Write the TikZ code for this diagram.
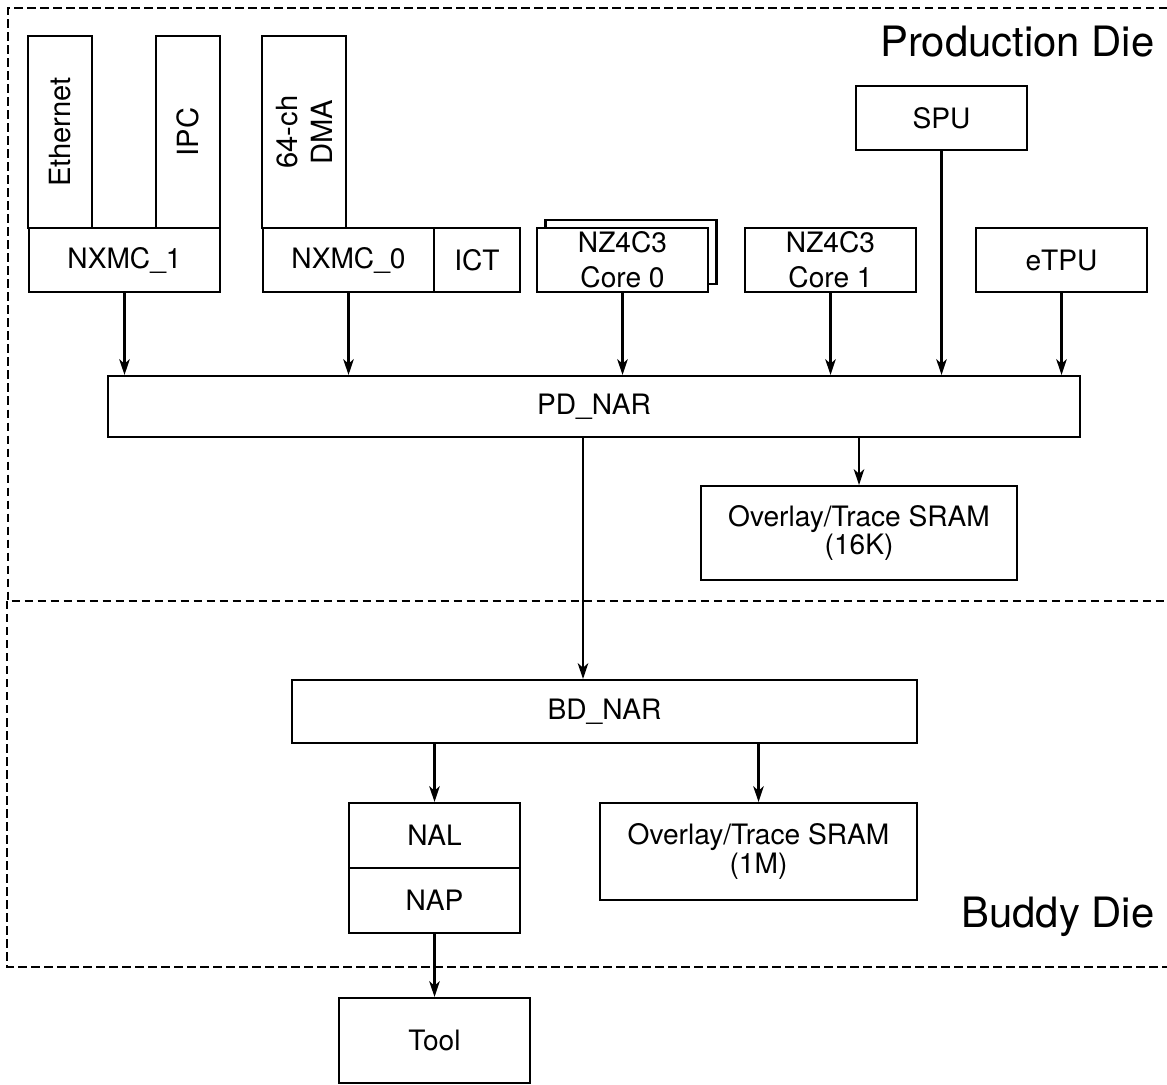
\documentclass[tikz,border=0pt]{standalone}
\usepackage{fontspec}
\setmainfont{TeX Gyre Heros}
\usepackage{tikz}
\usetikzlibrary{arrows.meta,calc,positioning}

\tikzset{
  blk/.style={draw, line width=0.6pt, fill=white, inner sep=0pt, align=center,
    font=\fontsize{8}{10}\selectfont},
  arr/.style={line width=0.6pt, -{Stealth[length=4.5pt,width=3pt,inset=1.3pt]}},
  die/.style={line width=0.6pt, dash pattern=on 2.4pt off 1.3pt},
  dielabel/.style={anchor=east, inner sep=0pt, font=\fontsize{11.9}{14}\selectfont}
}

\begin{document}
\begin{tikzpicture}
  \useasboundingbox (0,0) rectangle (11.67,-10.84);
  % die outlines
  \draw[die] (11.80,-0.08) -- (0.08,-0.08) -- (0.08,-6.01) -- (11.80,-6.01);
  \draw[die] (0.07,-6.01) -- (0.07,-9.67) -- (11.80,-9.67);
  \node[dielabel] (pdlabel) at (11.55,-0.42) {Production Die};
  \node[dielabel] (bdlabel) at (11.55,-9.17) {Buddy Die};

  % peripherals on the left
  \node[blk, rotate=90, minimum width=1.92cm, minimum height=0.64cm, font=\fontsize{8.3}{10}\selectfont] (eth) at (0.60,-1.32) {Ethernet};
  \node[blk, rotate=90, minimum width=1.92cm, minimum height=0.64cm, font=\fontsize{8.3}{10}\selectfont] (ipc) at (1.88,-1.32) {IPC};
  \node[blk, rotate=90, minimum width=1.92cm, minimum height=0.84cm, font=\fontsize{8.3}{10}\selectfont] (dma) at (3.04,-1.32) {64-ch\\DMA};
  \node[blk, minimum width=1.91cm, minimum height=0.64cm] (nxmc1) at (1.245,-2.60) {NXMC\_1};
  \node[blk, minimum width=1.71cm, minimum height=0.64cm] (nxmc0) at (3.485,-2.60) {NXMC\_0};
  \node[blk, minimum width=0.86cm, minimum height=0.64cm] (ict) at (4.77,-2.60) {ICT};

  % cores and co-processors
  \node[blk, minimum width=1.71cm, minimum height=0.64cm] (core0b) at (6.31,-2.52) {};
  \node[blk, minimum width=1.71cm, minimum height=0.64cm] (core0) at (6.225,-2.60) {NZ4C3\\Core 0};
  \node[blk, minimum width=1.71cm, minimum height=0.64cm] (core1) at (8.305,-2.60) {NZ4C3\\Core 1};
  \node[blk, minimum width=1.71cm, minimum height=0.64cm] (spu) at (9.415,-1.18) {SPU};
  \node[blk, minimum width=1.71cm, minimum height=0.64cm] (etpu) at (10.615,-2.60) {eTPU};

  % production die router and memory
  \node[blk, minimum width=9.72cm, minimum height=0.61cm] (pdnar) at (5.94,-4.065) {PD\_NAR};
  \node[blk, minimum width=3.16cm, minimum height=0.94cm, font=\fontsize{8}{8}\selectfont] (sram16k) at (8.59,-5.33) {Overlay/Trace SRAM\\(16K)};

  % buddy die
  \node[blk, minimum width=6.25cm, minimum height=0.63cm] (bdnar) at (6.045,-7.115) {BD\_NAR};
  \node[blk, minimum width=1.71cm, minimum height=0.65cm] (nal) at (4.345,-8.355) {NAL};
  \node[blk, minimum width=1.71cm, minimum height=0.65cm] (nap) at (4.345,-9.005) {NAP};
  \node[blk, minimum width=3.17cm, minimum height=0.97cm, font=\fontsize{8}{8}\selectfont] (sram1m) at (7.585,-8.515) {Overlay/Trace SRAM\\(1M)};
  \node[blk, minimum width=1.91cm, minimum height=0.85cm] (tool) at (4.345,-10.405) {Tool};

  % connections
  \foreach \src in {nxmc1,nxmc0,core0,core1,spu,etpu}
    \draw[arr] (\src.south) -- (\src.south |- pdnar.north);
  \draw[arr] ([xshift=-0.11cm]pdnar.south) -- ([xshift=-0.11cm]pdnar.south |- bdnar.north);
  \draw[arr] (sram16k.north |- pdnar.south) -- (sram16k.north);
  \draw[arr] (nal.north |- bdnar.south) -- (nal.north);
  \draw[arr] (sram1m.north |- bdnar.south) -- (sram1m.north);
  \draw[arr] (nap.south) -- (tool.north);
\end{tikzpicture}
\end{document}
